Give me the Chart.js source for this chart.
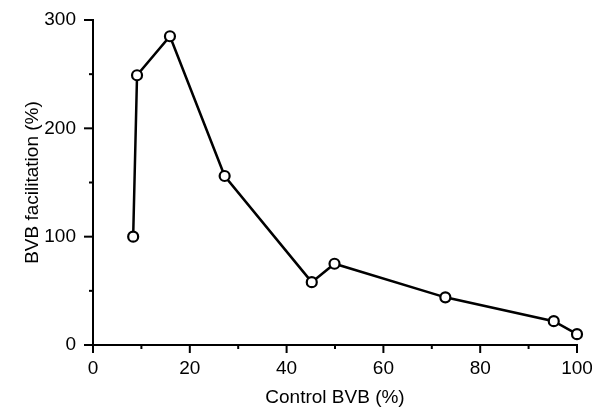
<!DOCTYPE html>
<html>
<head>
<meta charset="utf-8">
<script src="https://cdn.jsdelivr.net/npm/chart.js@4"></script>
<style>
    html, body { margin: 0; padding: 0; background: #fff; }
    #wrap { width: 592px; height: 410px; }
</style>
</head>
<body>
<div id="wrap"><canvas id="bvbChart"></canvas></div>
<script>
// Dados
const controlBVB = [8.3, 9.1, 15.9, 27.2, 45.2, 49.9, 72.8, 95.2, 100];
const facilitation = [100, 249, 285, 156, 58, 75, 44, 22, 10];
const xTickLabels = [0, 20, 40, 60, 80, 100];
const yTickLabels = [0, 100, 200, 300];

const FONT = { family: 'Liberation Sans, Arial, sans-serif', size: 19 };

// Marcas de escala maiores e menores
const tickMarks = {
    id: 'tickMarks',
    afterDraw(chart) {
        const ctx = chart.ctx;
        const xs = chart.scales.x;
        const ys = chart.scales.y;
        ctx.save();
        ctx.strokeStyle = '#000';
        ctx.lineWidth = 2;
        xs.ticks.forEach(t => {
            const px = xs.getPixelForValue(t.value);
            const len = xTickLabels.includes(t.value) ? 8 : 4;
            ctx.beginPath();
            ctx.moveTo(px, xs.top);
            ctx.lineTo(px, xs.top + len);
            ctx.stroke();
        });
        ys.ticks.forEach(t => {
            const py = ys.getPixelForValue(t.value);
            const len = yTickLabels.includes(t.value) ? 9 : 4;
            ctx.beginPath();
            ctx.moveTo(ys.right, py);
            ctx.lineTo(ys.right - len, py);
            ctx.stroke();
        });
        ctx.restore();
    }
};

const ctx = document.getElementById('bvbChart').getContext('2d');
new Chart(ctx, {
    type: 'scatter',
    data: {
        datasets: [{
            data: controlBVB.map((x, i) => ({ x: x, y: facilitation[i] })),
            showLine: true,
            clip: false,
            borderColor: '#000',
            borderWidth: 2.5,
            tension: 0,
            pointRadius: 5,
            pointBorderWidth: 2.2,
            pointBackgroundColor: '#fff',
            pointBorderColor: '#000'
        }]
    },
    options: {
        responsive: true,
        maintainAspectRatio: false,
        animation: false,
        layout: { padding: { top: 20, right: 0, left: 0, bottom: 0 } },
        plugins: { legend: { display: false }, tooltip: { enabled: false } },
        scales: {
            x: {
                type: 'linear',
                min: 0,
                max: 100,
                afterFit: s => { s.height = 65; s.paddingRight = 15; },
                border: { display: true, color: '#000', width: 2 },
                grid: { display: true, drawOnChartArea: false, drawTicks: true, tickLength: 8, tickColor: 'transparent' },
                ticks: {
                    stepSize: 10,
                    color: '#000',
                    font: FONT,
                    padding: 4,
                    maxRotation: 0,
                    autoSkip: false,
                    callback: v => xTickLabels.includes(v) ? v : ''
                },
                title: { display: true, text: 'Control BVB (%)', color: '#000', font: FONT, padding: { top: 0, bottom: 1 } }
            },
            y: {
                min: 0,
                max: 300,
                afterFit: s => { s.width = 93; },
                border: { display: true, color: '#000', width: 2 },
                grid: { display: true, drawOnChartArea: false, drawTicks: true, tickLength: 9, tickColor: 'transparent' },
                ticks: {
                    stepSize: 50,
                    color: '#000',
                    font: FONT,
                    padding: 8,
                    autoSkip: false,
                    callback: v => yTickLabels.includes(v) ? v : ''
                },
                title: { display: true, text: 'BVB facilitation (%)', color: '#000', font: FONT, padding: { top: 21, bottom: 0 } }
            }
        }
    },
    plugins: [tickMarks]
});
</script>
</body>
</html>
